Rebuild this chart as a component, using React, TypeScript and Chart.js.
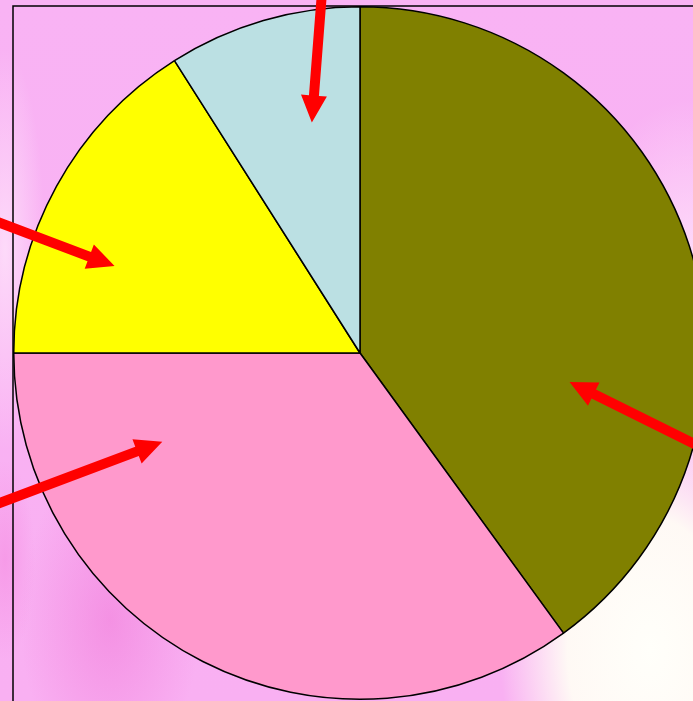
import React, { useEffect, useRef } from "react";
import { Chart, registerables } from "chart.js";

Chart.register(...registerables);

const categories = ["A", "B", "C", "D"];
const values = [40, 35, 16, 9];
const sliceColors = ["#808000", "#FF99CC", "#FFFF00", "#BBE0E3"];

// arrow annotations: angle in degrees clockwise from 12 o'clock, distance as fraction of radius
const arrowTipAngles = [97.9, 245.8, 289.5, 348.2];
const arrowTipDist = [0.611, 0.626, 0.752, 0.68];
const arrowTailAngles = [105.8, 247.5, 289.9, 354.3];
const arrowTailDist = [1.057, 1.185, 1.165, 1.08];

const framePlugin = {
  id: "frame",
  afterDatasetsDraw(chart: any) {
    const { ctx, chartArea } = chart;
    ctx.save();
    ctx.strokeStyle = "#000";
    ctx.lineWidth = 1.5;
    ctx.strokeRect(chartArea.left, chartArea.top, chartArea.right - chartArea.left, chartArea.bottom - chartArea.top + 6);
    ctx.restore();
  },
};

const arrowPlugin = {
  id: "arrows",
  afterDraw(chart: any) {
    const meta = chart.getDatasetMeta(0);
    const arc = meta.data[0];
    if (!arc) return;
    const cx = arc.x;
    const cy = arc.y;
    const r = arc.outerRadius;
    const ctx = chart.ctx;
    const pt = (deg: number, f: number) => {
      const a = ((deg - 90) * Math.PI) / 180;
      return [cx + f * r * Math.cos(a), cy + f * r * Math.sin(a)];
    };
    ctx.save();
    ctx.fillStyle = "#FF0000";
    for (let i = 0; i < arrowTipAngles.length; i++) {
      const [tx, ty] = pt(arrowTipAngles[i], arrowTipDist[i]);
      const [sx, sy] = pt(arrowTailAngles[i], arrowTailDist[i]);
      const dx = tx - sx;
      const dy = ty - sy;
      const len = Math.hypot(dx, dy);
      const ux = dx / len;
      const uy = dy / len;
      const nx = -uy;
      const ny = ux;
      const headLen = 27;
      const headHalf = 13;
      const shaftHalf = 5;
      const bx = tx - ux * headLen;
      const by = ty - uy * headLen;
      ctx.beginPath();
      ctx.moveTo(sx + nx * shaftHalf, sy + ny * shaftHalf);
      ctx.lineTo(bx + nx * shaftHalf, by + ny * shaftHalf);
      ctx.lineTo(bx + nx * headHalf, by + ny * headHalf);
      ctx.lineTo(tx, ty);
      ctx.lineTo(bx - nx * headHalf, by - ny * headHalf);
      ctx.lineTo(bx - nx * shaftHalf, by - ny * shaftHalf);
      ctx.lineTo(sx - nx * shaftHalf, sy - ny * shaftHalf);
      ctx.closePath();
      ctx.fill();
    }
    ctx.restore();
  },
};

export default function App() {
  const ref = useRef<HTMLCanvasElement>(null);
  useEffect(() => {
    if (!ref.current) return;
    const chart = new Chart(ref.current, {
      type: "pie",
      data: {
        labels: categories,
        datasets: [
          {
            data: values,
            backgroundColor: sliceColors,
            borderColor: "#000000",
            borderWidth: 1.5,
          },
        ],
      },
      options: {
        responsive: false,
        animation: false,
        layout: { padding: { left: 13, top: 6, right: 13, bottom: 10 } },
        plugins: {
          legend: { display: false },
          tooltip: { enabled: false },
        },
      },
      plugins: [framePlugin, arrowPlugin],
    });
    return () => chart.destroy();
  }, []);

  const bg = [
    "radial-gradient(ellipse 150px 240px at 650px 650px, rgba(255,255,250,1) 0%, rgba(255,253,245,0.95) 55%, rgba(255,250,250,0) 100%)",
    "radial-gradient(ellipse 120px 200px at 690px 300px, rgba(255,235,252,0.9) 0%, rgba(255,230,250,0) 100%)",
    "radial-gradient(ellipse 90px 160px at 110px 620px, rgba(240,120,215,0.55) 0%, rgba(240,120,215,0) 100%)",
    "radial-gradient(ellipse 40px 200px at 5px 250px, rgba(255,235,252,0.7) 0%, rgba(255,235,252,0) 100%)",
    "radial-gradient(ellipse 30px 100px at 5px 560px, rgba(245,140,225,0.6) 0%, rgba(245,140,225,0) 100%)",
    "linear-gradient(#F9B3F4, #F9B0F2)",
  ].join(",");

  return (
    <div
      style={{
        position: "fixed",
        left: 0,
        top: 0,
        width: 693,
        height: 701,
        overflow: "hidden",
        background: bg,
      }}
    >
      <canvas ref={ref} width={720} height={710} style={{ position: "absolute", left: 0, top: 0 }} />
    </div>
  );
}
